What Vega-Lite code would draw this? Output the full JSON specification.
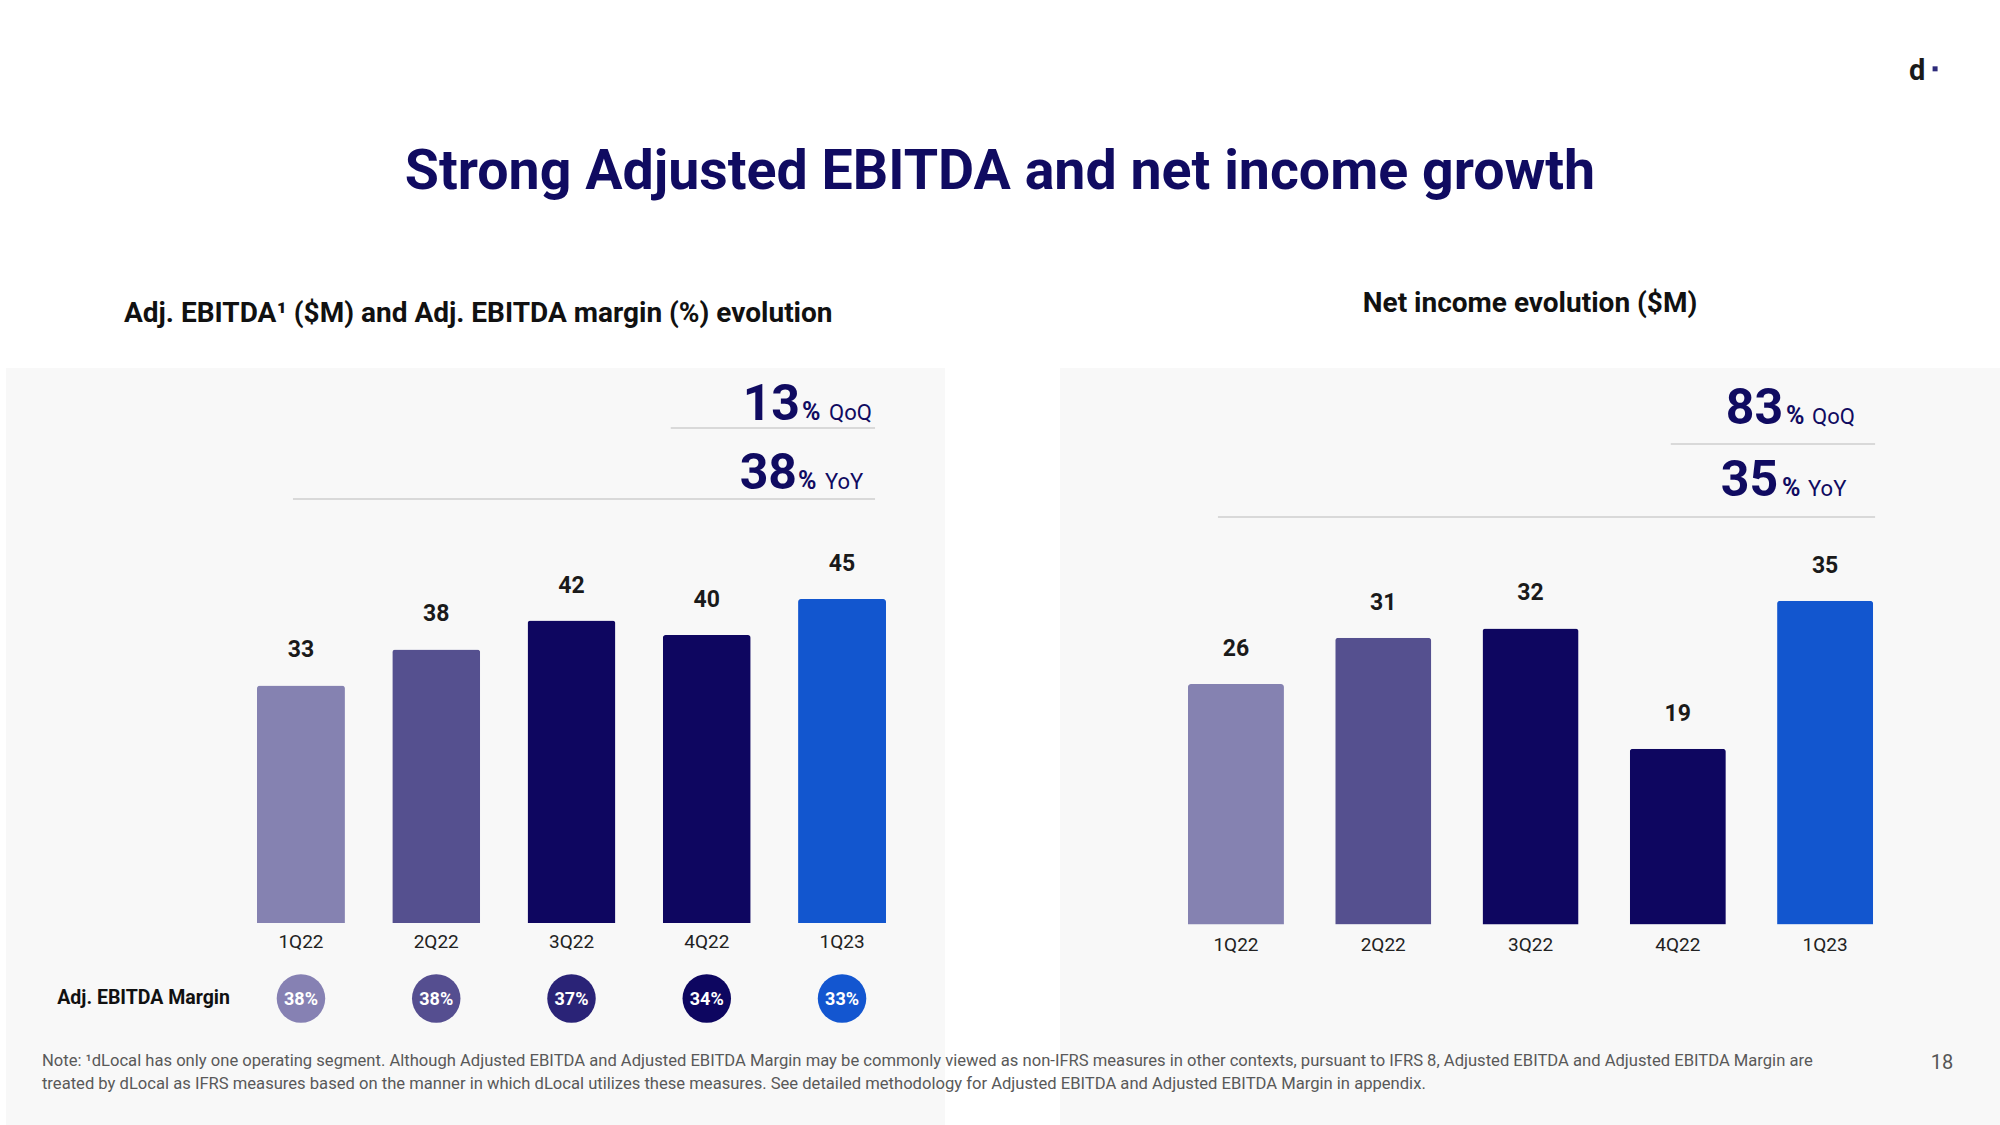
{
  "$schema": "https://vega.github.io/schema/vega-lite/v6.json",
  "background": "#ffffff",
  "padding": {"left": 6, "top": 56, "right": 0, "bottom": 0},
  "autosize": {"type": "pad"},
  "title": {"text": "Strong Adjusted EBITDA and net income growth", "anchor": "middle", "frame": "bounds", "font": "Roboto", "fontSize": 55.5, "fontWeight": "bold", "color": "#100b61", "offset": -144, "dx": -3},
  "spacing": 115,
  "bounds": "flush",
  "config": {"view": {"stroke": null, "fill": "#f8f8f8"}, "font": "Roboto"},
  "datasets": {
    "ebitda": [
      {"quarter": "1Q22", "ebitda": 33, "margin": "38%"},
      {"quarter": "2Q22", "ebitda": 38, "margin": "38%"},
      {"quarter": "3Q22", "ebitda": 42, "margin": "37%"},
      {"quarter": "4Q22", "ebitda": 40, "margin": "34%"},
      {"quarter": "1Q23", "ebitda": 45, "margin": "33%"},
      {"quarter": "1Q23", "period": "QoQ", "growth": 13, "from": "4Q22"},
      {"quarter": "1Q23", "period": "YoY", "growth": 38, "from": "1Q22"},
      {"quarter": "1Q22", "label": "Adj. EBITDA Margin"}
    ],
    "net_income": [
      {"quarter": "1Q22", "net_income": 26},
      {"quarter": "2Q22", "net_income": 31},
      {"quarter": "3Q22", "net_income": 32},
      {"quarter": "4Q22", "net_income": 19},
      {"quarter": "1Q23", "net_income": 35},
      {"quarter": "1Q23", "period": "QoQ", "growth": 83, "from": "4Q22"},
      {"quarter": "1Q23", "period": "YoY", "growth": 35, "from": "1Q22"},
      {"quarter": "1Q23", "brand": "d"},
      {"quarter": "1Q23", "page": 18},
      {"quarter": "1Q22", "note": ["Note: ¹dLocal has only one operating segment. Although Adjusted EBITDA and Adjusted EBITDA Margin may be commonly viewed as non-IFRS measures in other contexts, pursuant to IFRS 8, Adjusted EBITDA and Adjusted EBITDA Margin are", "treated by dLocal as IFRS measures based on the manner in which dLocal utilizes these measures. See detailed methodology for Adjusted EBITDA and Adjusted EBITDA Margin in appendix."]}
    ]
  },
  "hconcat": [
    {
      "width": 939,
      "height": 758,
      "title": {"text": "Adj. EBITDA¹ ($M) and Adj. EBITDA margin (%) evolution", "anchor": "start", "frame": "group", "dx": 118, "offset": 40, "font": "Roboto", "fontSize": 28, "fontWeight": "bold", "color": "#111111"},
      "data": {"name": "ebitda"},
      "encoding": {
        "x": {"field": "quarter", "type": "nominal", "sort": null, "axis": null, "scale": {"domain": ["1Q22", "2Q22", "3Q22", "4Q22", "1Q23"], "range": [251, 880], "paddingInner": 0.35, "paddingOuter": 0}}
      },
      "layer": [
        {"transform": [{"filter": "isValid(datum.ebitda)"}],
         "layer": [
           {"mark": {"type": "bar", "cornerRadiusTopLeft": 3, "cornerRadiusTopRight": 3},
            "encoding": {
              "y": {"field": "ebitda", "type": "quantitative", "axis": null, "scale": {"domain": [-28.19, 77.08], "nice": false, "zero": false}},
              "color": {"field": "quarter", "type": "nominal", "legend": null, "scale": {"domain": ["1Q22", "2Q22", "3Q22", "4Q22", "1Q23"], "range": ["#8582b1", "#55508f", "#0e0660", "#0e0660", "#1256cf"]}}}},
           {"mark": {"type": "text", "baseline": "alphabetic", "dy": -28, "fontSize": 23, "fontWeight": "bold", "color": "#1a1a1a"},
            "encoding": {"y": {"field": "ebitda", "type": "quantitative"}, "text": {"field": "ebitda", "type": "quantitative"}}},
           {"mark": {"type": "text", "baseline": "alphabetic", "dy": 25, "fontSize": 19, "color": "#222222"},
            "encoding": {"y": {"datum": 0}, "text": {"field": "quarter", "type": "nominal"}}},
           {"mark": {"type": "point", "shape": "circle", "filled": true, "opacity": 1, "strokeWidth": 0, "size": 2352, "yOffset": 75.5},
            "encoding": {"y": {"datum": 0}, "fill": {"field": "quarter", "type": "nominal", "legend": null, "scale": {"domain": ["1Q22", "2Q22", "3Q22", "4Q22", "1Q23"], "range": ["#8681b3", "#554e90", "#2a2377", "#0d0660", "#1356d0"]}}}},
           {"mark": {"type": "text", "baseline": "alphabetic", "dy": 82, "fontSize": 18, "fontWeight": "bold", "color": "#ffffff"},
            "encoding": {"y": {"datum": 0}, "text": {"field": "margin", "type": "nominal"}}}
         ]},
        {"transform": [{"filter": "isValid(datum.label)"}],
         "mark": {"type": "text", "align": "right", "baseline": "alphabetic", "dx": -71, "dy": 81, "fontSize": 19.5, "fontWeight": "bold", "color": "#111111"},
         "encoding": {"y": {"datum": 0}, "text": {"field": "label", "type": "nominal"}}},
        {"transform": [{"filter": "datum.period === 'QoQ'"}],
         "layer": [
           {"mark": {"type": "rule", "color": "#d9d9d9", "strokeWidth": 2, "xOffset": -36, "x2Offset": 33},
            "encoding": {"x": {"field": "from", "type": "nominal"}, "x2": {"field": "quarter"}, "y": {"datum": 68.75}}},
           {"mark": {"type": "text", "align": "right", "baseline": "alphabetic", "dx": -42, "dy": -8, "fontSize": 50, "fontWeight": "bold", "color": "#100b61"},
            "encoding": {"y": {"datum": 68.75}, "text": {"field": "growth", "type": "quantitative"}}},
           {"mark": {"type": "text", "text": "%", "align": "left", "baseline": "alphabetic", "dx": -40, "dy": -8, "fontSize": 25, "fontWeight": "bold", "color": "#100b61"},
            "encoding": {"y": {"datum": 68.75}}},
           {"mark": {"type": "text", "align": "left", "baseline": "alphabetic", "dx": -13, "dy": -8, "fontSize": 22, "color": "#100b61"},
            "encoding": {"y": {"datum": 68.75}, "text": {"field": "period", "type": "nominal"}}}
         ]},
        {"transform": [{"filter": "datum.period === 'YoY'"}],
         "layer": [
           {"mark": {"type": "rule", "color": "#d9d9d9", "strokeWidth": 2, "xOffset": -8, "x2Offset": 33},
            "encoding": {"x": {"field": "from", "type": "nominal"}, "x2": {"field": "quarter"}, "y": {"datum": 58.89}}},
           {"mark": {"type": "text", "align": "right", "baseline": "alphabetic", "dx": -45, "dy": -10, "fontSize": 50, "fontWeight": "bold", "color": "#100b61"},
            "encoding": {"y": {"datum": 58.89}, "text": {"field": "growth", "type": "quantitative"}}},
           {"mark": {"type": "text", "text": "%", "align": "left", "baseline": "alphabetic", "dx": -44, "dy": -10, "fontSize": 25, "fontWeight": "bold", "color": "#100b61"},
            "encoding": {"y": {"datum": 58.89}}},
           {"mark": {"type": "text", "align": "left", "baseline": "alphabetic", "dx": -17, "dy": -10, "fontSize": 22, "color": "#100b61"},
            "encoding": {"y": {"datum": 58.89}, "text": {"field": "period", "type": "nominal"}}}
         ]}
      ]
    },
    {
      "width": 940,
      "height": 758,
      "title": {"text": "Net income evolution ($M)", "anchor": "middle", "frame": "group", "offset": -261, "font": "Roboto", "fontSize": 28, "fontWeight": "bold", "color": "#111111"},
      "data": {"name": "net_income"},
      "encoding": {
        "x": {"field": "quarter", "type": "nominal", "sort": null, "axis": null, "scale": {"domain": ["1Q22", "2Q22", "3Q22", "4Q22", "1Q23"], "paddingInner": 0.348, "paddingOuter": 0.865, "align": 0.502}}
      },
      "layer": [
        {"transform": [{"filter": "isValid(datum.net_income)"}],
         "layer": [
           {"mark": {"type": "bar", "cornerRadiusTopLeft": 3, "cornerRadiusTopRight": 3},
            "encoding": {
              "y": {"field": "net_income", "type": "quantitative", "axis": null, "scale": {"domain": [-21.78, 60.16], "nice": false, "zero": false}},
              "color": {"field": "quarter", "type": "nominal", "legend": null, "scale": {"domain": ["1Q22", "2Q22", "3Q22", "4Q22", "1Q23"], "range": ["#8582b1", "#55508f", "#0e0660", "#0e0660", "#1256cf"]}}}},
           {"mark": {"type": "text", "baseline": "alphabetic", "dy": -28, "fontSize": 23, "fontWeight": "bold", "color": "#1a1a1a"},
            "encoding": {"y": {"field": "net_income", "type": "quantitative"}, "text": {"field": "net_income", "type": "quantitative"}}},
           {"mark": {"type": "text", "baseline": "alphabetic", "dy": 26, "fontSize": 19, "color": "#222222"},
            "encoding": {"y": {"datum": 0}, "text": {"field": "quarter", "type": "nominal"}}}
         ]},
        {"transform": [{"filter": "datum.period === 'QoQ'"}],
         "layer": [
           {"mark": {"type": "rule", "color": "#d9d9d9", "strokeWidth": 2, "xOffset": -7, "x2Offset": 50},
            "encoding": {"x": {"field": "from", "type": "nominal"}, "x2": {"field": "quarter"}, "y": {"datum": 51.95}}},
           {"mark": {"type": "text", "align": "right", "baseline": "alphabetic", "dx": -42, "dy": -20, "fontSize": 50, "fontWeight": "bold", "color": "#100b61"},
            "encoding": {"y": {"datum": 51.95}, "text": {"field": "growth", "type": "quantitative"}}},
           {"mark": {"type": "text", "text": "%", "align": "left", "baseline": "alphabetic", "dx": -39, "dy": -20, "fontSize": 25, "fontWeight": "bold", "color": "#100b61"},
            "encoding": {"y": {"datum": 51.95}}},
           {"mark": {"type": "text", "align": "left", "baseline": "alphabetic", "dx": -13, "dy": -20, "fontSize": 22, "color": "#100b61"},
            "encoding": {"y": {"datum": 51.95}, "text": {"field": "period", "type": "nominal"}}}
         ]},
        {"transform": [{"filter": "datum.period === 'YoY'"}],
         "layer": [
           {"mark": {"type": "rule", "color": "#d9d9d9", "strokeWidth": 2, "xOffset": -18, "x2Offset": 50},
            "encoding": {"x": {"field": "from", "type": "nominal"}, "x2": {"field": "quarter"}, "y": {"datum": 44.05}}},
           {"mark": {"type": "text", "align": "right", "baseline": "alphabetic", "dx": -47, "dy": -21, "fontSize": 50, "fontWeight": "bold", "color": "#100b61"},
            "encoding": {"y": {"datum": 44.05}, "text": {"field": "growth", "type": "quantitative"}}},
           {"mark": {"type": "text", "text": "%", "align": "left", "baseline": "alphabetic", "dx": -43, "dy": -21, "fontSize": 25, "fontWeight": "bold", "color": "#100b61"},
            "encoding": {"y": {"datum": 44.05}}},
           {"mark": {"type": "text", "align": "left", "baseline": "alphabetic", "dx": -17, "dy": -21, "fontSize": 22, "color": "#100b61"},
            "encoding": {"y": {"datum": 44.05}, "text": {"field": "period", "type": "nominal"}}}
         ]},
        {"transform": [{"filter": "isValid(datum.brand)"}],
         "layer": [
           {"mark": {"type": "text", "align": "center", "baseline": "alphabetic", "dx": 92, "fontSize": 29, "fontWeight": "bold", "color": "#1a1a1a"},
            "encoding": {"y": {"datum": 91.3}, "text": {"field": "brand", "type": "nominal"}}},
           {"mark": {"type": "point", "shape": "square", "filled": true, "opacity": 1, "size": 25, "color": "#2d2a7a", "xOffset": 110},
            "encoding": {"y": {"datum": 92.5}}}
         ]},
        {"transform": [{"filter": "isValid(datum.note)"}],
         "mark": {"type": "text", "align": "left", "baseline": "alphabetic", "dx": -1194, "dy": 141.5, "lineHeight": 23, "fontSize": 16.6, "color": "#595959"},
         "encoding": {"y": {"datum": 0}, "text": {"field": "note", "type": "nominal"}}},
        {"transform": [{"filter": "isValid(datum.page)"}],
         "mark": {"type": "text", "align": "center", "baseline": "alphabetic", "dx": 117, "dy": 144.5, "fontSize": 20, "color": "#555555"},
         "encoding": {"y": {"datum": 0}, "text": {"field": "page", "type": "quantitative"}}}
      ]
    }
  ]
}
